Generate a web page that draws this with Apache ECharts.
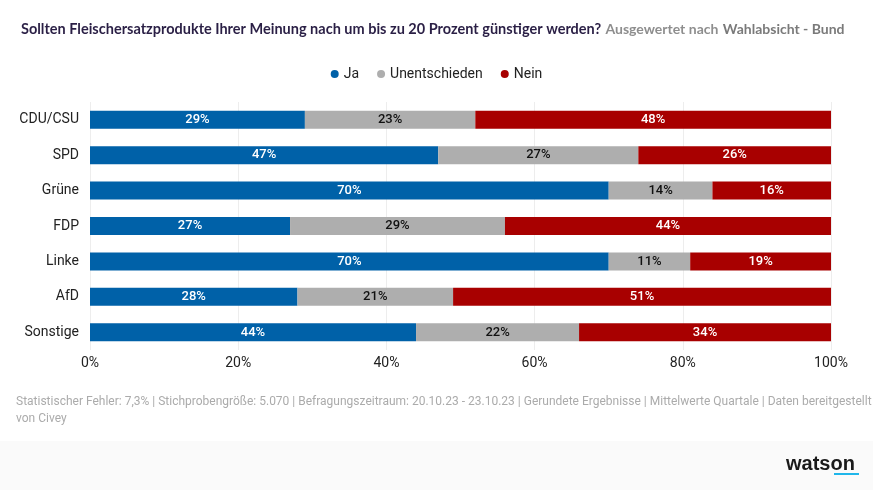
<!DOCTYPE html>
<html>
<head>
<meta charset="utf-8">
<style>
  html, body { margin: 0; padding: 0; background: #fff; }
  #chart { width: 873px; height: 490px; }
</style>
<script src="https://cdn.jsdelivr.net/npm/echarts@6/dist/echarts.min.js"></script>
</head>
<body>
<div id="chart"></div>
<script>
const categories = ['CDU/CSU', 'SPD', 'Grüne', 'FDP', 'Linke', 'AfD', 'Sonstige'];
const ja = [29, 47, 70, 27, 70, 28, 44];
const unentschieden = [23, 27, 14, 29, 11, 21, 22];
const nein = [48, 26, 16, 44, 19, 51, 34];

const labelFont = 'Roboto';
const barHeight = 18;

function makeSeries(name, data, color, labelColor) {
  return {
    name: name,
    type: 'bar',
    stack: 'total',
    data: data,
    barWidth: barHeight,
    itemStyle: { color: color },
    label: {
      show: true,
      position: 'inside',
      formatter: '{c}%',
      color: labelColor,
      fontFamily: labelFont,
      fontSize: 13,
      fontWeight: 500
    }
  };
}

const chart = echarts.init(document.getElementById('chart'));
chart.setOption({
  animation: false,
  textStyle: { fontFamily: labelFont },
  title: {
    left: 16,
    top: 15,
    text: '{a|Sollten Fleischersatzprodukte Ihrer Meinung nach um bis zu 20 Prozent günstiger werden?} {b|Ausgewertet nach} {c|Wahlabsicht - Bund}',
    textStyle: {
      rich: {
        a: { fontFamily: 'Lato', fontSize: 14.5, fontWeight: 700, color: '#2a1f45' },
        b: { fontFamily: 'Lato', fontSize: 14, color: '#8e8e8e' },
        c: { fontFamily: 'Lato', fontSize: 14, fontWeight: 700, color: '#7a7a7a' }
      }
    }
  },
  legend: {
    top: 62,
    left: 'center',
    icon: 'circle',
    itemWidth: 8,
    itemHeight: 8,
    itemGap: 18,
    textStyle: { fontFamily: labelFont, fontSize: 14, color: '#222' },
    data: ['Ja', 'Unentschieden', 'Nein']
  },
  grid: { left: 90, right: 42, top: 102, bottom: 140 },
  xAxis: {
    type: 'value',
    min: 0,
    max: 100,
    interval: 20,
    axisLine: { show: false },
    axisTick: { show: false },
    splitLine: { lineStyle: { color: '#ededed' } },
    axisLabel: { formatter: '{value}%', color: '#222', fontSize: 14, margin: 6 }
  },
  yAxis: {
    type: 'category',
    inverse: true,
    data: categories,
    axisLine: { show: false },
    axisTick: { show: false },
    axisLabel: { color: '#222', fontSize: 14, margin: 11 }
  },
  series: [
    makeSeries('Ja', ja, '#0061a8', '#fff'),
    makeSeries('Unentschieden', unentschieden, '#aeaeae', '#111'),
    makeSeries('Nein', nein, '#a80000', '#fff')
  ],
  graphic: [
    { type: 'rect', left: 0, top: 441, z: -1, shape: { width: 873, height: 49 }, style: { fill: '#fafafa' } },
    { type: 'text', left: 16, top: 393, style: {
      text: 'Statistischer Fehler: 7,3% | Stichprobengröße: 5.070 | Befragungszeitraum: 20.10.23 - 23.10.23 | Gerundete Ergebnisse | Mittelwerte Quartale | Daten bereitgestellt\nvon Civey',
      font: '12px Roboto', fill: '#ababab', lineHeight: 17
    } },
    { type: 'text', left: 786, top: 454, style: {
      text: 'watson', font: '700 20px "Liberation Sans"', fill: '#1a1a1a'
    } },
    { type: 'rect', left: 834, top: 473, shape: { width: 25, height: 2 }, style: { fill: '#1fb6ea' } }
  ]
});
</script>
</body>
</html>
